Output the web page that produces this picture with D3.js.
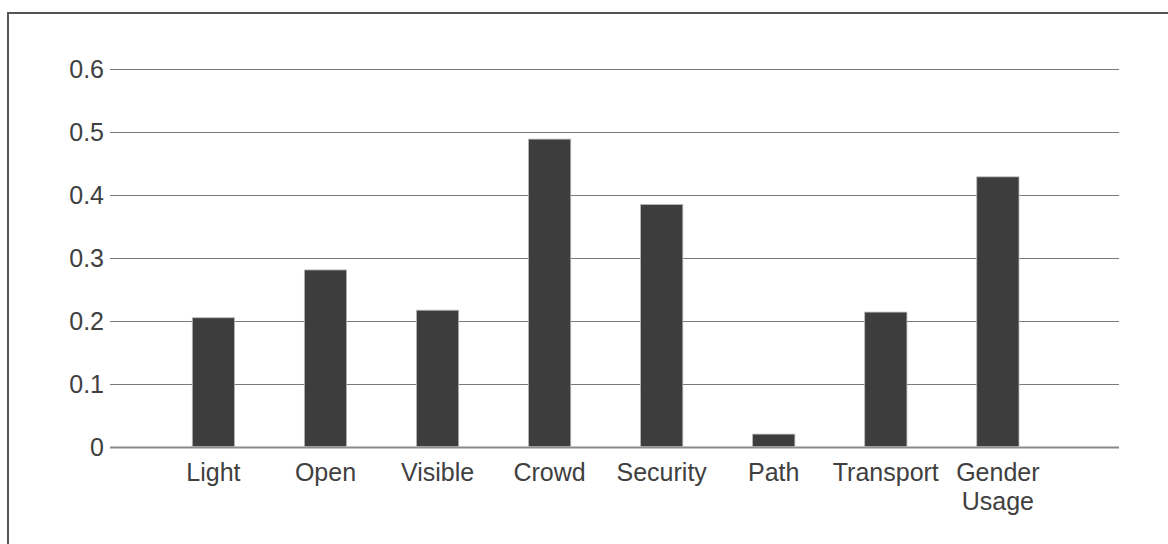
<!DOCTYPE html>
<html>
<head>
<meta charset="utf-8">
<script src="https://cdn.jsdelivr.net/npm/d3@7"></script>
<style>
  html, body { margin: 0; padding: 0; background: #fff; }
  svg { display: block; }
</style>
</head>
<body>
<svg id="chart" width="1168" height="544"></svg>
<script>
const categories = ["Light", "Open", "Visible", "Crowd", "Security", "Path", "Transport", "Gender Usage"];
const values = [0.205, 0.281, 0.217, 0.489, 0.385, 0.020, 0.214, 0.429];
const yTicks = [0, 0.1, 0.2, 0.3, 0.4, 0.5, 0.6];
const yTickLabels = ["0", "0.1", "0.2", "0.3", "0.4", "0.5", "0.6"];

const svg = d3.select("#chart");
const font = "'Liberation Sans', Arial, sans-serif";
const textColor = "#404040";

// outer frame (only top and left visible)
svg.append("rect")
  .attr("x", 8).attr("y", 13)
  .attr("width", 1220).attr("height", 600)
  .attr("fill", "none").attr("stroke", "#555").attr("stroke-width", 2);

const gridX0 = 110, gridX1 = 1119;
const y = d3.scaleLinear().domain([0, 0.6]).range([446.7, 69.3]);
const x = d3.scaleBand().domain(categories).range([157.4, 1053.9]).paddingInner(0.623).paddingOuter(0.3115);

// gridlines
svg.append("g").selectAll("line").data(yTicks).join("line")
  .attr("x1", gridX0).attr("x2", gridX1)
  .attr("y1", d => Math.round(y(d)) + 0.5).attr("y2", d => Math.round(y(d)) + 0.5)
  .attr("stroke", d => d === 0 ? "#8a8a8a" : "#7a7a7a")
  .attr("stroke-width", d => d === 0 ? 2 : 1.2);

// y labels
svg.append("g").selectAll("text").data(yTicks).join("text")
  .attr("x", 104).attr("y", d => y(d))
  .attr("dy", "0.36em")
  .attr("text-anchor", "end")
  .attr("font-family", font).attr("font-size", 25)
  .attr("fill", textColor)
  .text((d, i) => yTickLabels[i]);

// bars
svg.append("g").selectAll("rect").data(values).join("rect")
  .attr("x", (d, i) => x(categories[i]))
  .attr("width", x.bandwidth())
  .attr("y", d => y(d))
  .attr("height", d => y(0) - y(d))
  .attr("fill", "#3d3d3d")
  .attr("stroke", "#b8b8b8").attr("stroke-width", 0.8);

// x labels
const xl = svg.append("g").selectAll("text").data(categories).join("text")
  .attr("x", d => x(d) + x.bandwidth() / 2)
  .attr("y", 481)
  .attr("text-anchor", "middle")
  .attr("font-family", font).attr("font-size", 25)
  .attr("fill", textColor);
xl.each(function(d) {
  const words = d.split(" ");
  const t = d3.select(this);
  words.forEach((w, i) => {
    t.append("tspan").attr("x", x(d) + x.bandwidth() / 2).attr("dy", i === 0 ? 0 : 29).text(w);
  });
});
</script>
</body>
</html>
